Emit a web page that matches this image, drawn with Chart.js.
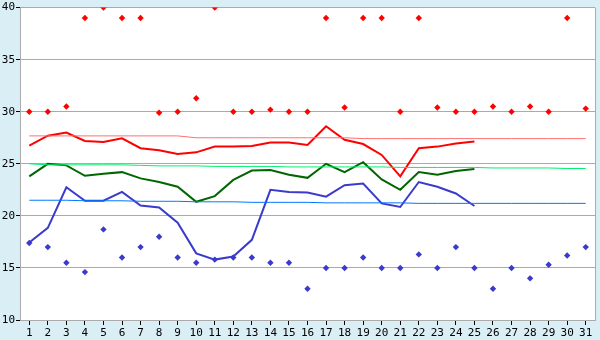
<!DOCTYPE html>
<html lang="en">
  <head>
    <meta charset="UTF-8" />
    <title>Temperatures</title>
    <script src="https://cdn.jsdelivr.net/npm/chart.js"></script>
    <style>
      body { margin: 0; background: #d9eef5; }
      #wrap { width: 600px; height: 340px; }
    </style>
  </head>
  <body>
    <div id="wrap"><canvas id="myChart" width="600" height="340"></canvas></div>

    <script>
      // days of month
      const days = [1,2,3,4,5,6,7,8,9,10,11,12,13,14,15,16,17,18,19,20,21,22,23,24,25,26,27,28,29,30,31];

      // daily max / mean / min (days 1-25)
      const maxLine = [26.75,27.7,28.0,27.2,27.1,27.45,26.5,26.3,25.95,26.1,26.65,26.65,26.7,27.05,27.05,26.8,28.6,27.3,26.9,25.85,23.8,26.5,26.65,26.95,27.15];
      const meanLine = [23.8,25.0,24.85,23.85,24.05,24.2,23.6,23.25,22.8,21.35,21.9,23.45,24.35,24.4,23.95,23.65,25.0,24.2,25.15,23.5,22.5,24.2,23.95,24.3,24.5];
      const minLine = [17.45,18.85,22.75,21.45,21.45,22.3,21.0,20.8,19.35,16.4,15.8,16.1,17.7,22.5,22.3,22.25,21.85,22.95,23.1,21.2,20.85,23.25,22.8,22.15,20.95];

      // record highs / lows per day
      const recordMax = [30,30,30.5,39,40,39,39,29.9,30,31.3,40,30,30,30.2,30,30,39,30.4,39,39,30,39,30.4,30,30,30.5,30,30.5,30,39,30.3];
      const recordMin = [17.4,17,15.5,14.6,18.7,16,17,18,16,15.5,15.8,16,16,15.5,15.5,13,15,15,16,15,15,16.3,15,17,15,13,15,14,15.3,16.2,17];

      // normals
      const normalMax = [27.68,27.68,27.68,27.68,27.68,27.68,27.68,27.68,27.68,27.5,27.5,27.5,27.5,27.5,27.5,27.5,27.5,27.5,27.42,27.42,27.42,27.42,27.42,27.42,27.42,27.42,27.42,27.42,27.42,27.42,27.42];
      const normalMean = [25.0,24.9,24.9,24.9,24.9,24.9,24.85,24.8,24.8,24.8,24.75,24.75,24.75,24.75,24.7,24.7,24.7,24.7,24.7,24.7,24.65,24.65,24.65,24.65,24.65,24.6,24.6,24.6,24.6,24.55,24.55];
      const normalMin = [21.5,21.5,21.5,21.45,21.45,21.45,21.4,21.4,21.4,21.35,21.35,21.35,21.3,21.3,21.3,21.3,21.25,21.25,21.25,21.25,21.25,21.2,21.2,21.2,21.2,21.2,21.2,21.2,21.2,21.2,21.2];

      const yTicks = [10,15,20,25,30,35,40];

      const bgPlugin = {
        id: "bg",
        beforeDraw(chart) {
          const { ctx, chartArea: a } = chart;
          ctx.save();
          ctx.fillStyle = "#d9eef5";
          ctx.fillRect(0, 0, chart.width, chart.height);
          ctx.fillStyle = "#ffffff";
          ctx.fillRect(a.left, a.top, a.right - a.left, a.bottom - a.top);
          ctx.restore();
        },
        afterDraw(chart) {
          const { ctx, chartArea: a } = chart;
          ctx.save();
          ctx.strokeStyle = "#aaaaaa";
          ctx.lineWidth = 1;
          ctx.beginPath();
          ctx.moveTo(Math.round(a.right) + 0.5, a.top);
          ctx.lineTo(Math.round(a.right) + 0.5, a.bottom);
          ctx.stroke();
          ctx.restore();
        },
      };

      const line = (data, color, width) => ({
        data, borderColor: color, backgroundColor: color, borderWidth: width,
        pointRadius: 0, fill: false, tension: 0,
      });
      const dots = (data, color) => ({
        data, showLine: false, borderColor: color, backgroundColor: color,
        pointStyle: "rectRot", pointRadius: 3.2, pointBorderWidth: 0,
      });

      new Chart(document.getElementById("myChart"), {
        type: "line",
        data: {
          labels: days,
          datasets: [
            dots(recordMax, "#ff0000"),
            dots(recordMin, "#3a3acc"),
            line(normalMax, "#ff7070", 1),
            line(normalMean, "#00f070", 1),
            line(normalMin, "#0078ff", 1),
            line(maxLine, "#ff0000", 2),
            line(meanLine, "#006600", 2),
            line(minLine, "#3a3acc", 2),
          ],
        },
        options: {
          responsive: false,
          animation: false,
          layout: { padding: { left: 0, right: 5, top: 5, bottom: 0 } },
          plugins: { legend: { display: false }, tooltip: { enabled: false } },
          scales: {
            x: {
              offset: true,
              grid: { drawOnChartArea: false, drawTicks: true, tickLength: 5, tickColor: "#000000" },
              border: { color: "#aaaaaa", width: 1 },
              ticks: { color: "#000000", padding: 2, maxRotation: 0, autoSkip: false,
                font: { family: "DejaVu Sans Mono", size: 11 } },
              afterFit: (s) => { s.height = 20; },
            },
            y: {
              min: 10, max: 40,
              afterBuildTicks: (s) => { s.ticks = yTicks.map((v) => ({ value: v })); },
              grid: { color: "#aaaaaa", lineWidth: 1, tickLength: 4, tickColor: "#000000" },
              border: { color: "#aaaaaa", width: 1 },
              ticks: { color: "#000000", padding: 1,
                font: { family: "DejaVu Sans Mono", size: 11 } },
              afterFit: (s) => { s.width = 20; },
            },
          },
        },
        plugins: [bgPlugin],
      });
    </script>
  </body>
</html>
